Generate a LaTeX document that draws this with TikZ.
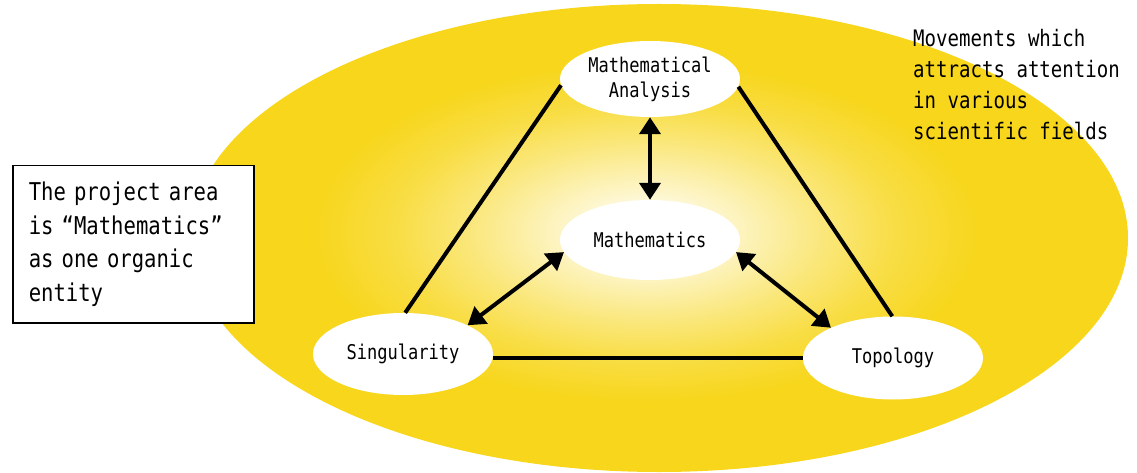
\documentclass[tikz,border=0pt]{standalone}
\usepackage{fontspec}
\newfontfamily\gfont[FakeStretch=0.84]{DejaVu Sans Mono}
\usetikzlibrary{arrows.meta,shapes.geometric}
\definecolor{myyellow}{RGB}{247,214,28}
\colorlet{ya}{myyellow!10!white}
\colorlet{yb}{myyellow!32!white}
\colorlet{yc}{myyellow!58!white}
\colorlet{yd}{myyellow!82!white}
\pgfdeclareradialshading{glow}{\pgfpoint{0bp}{0bp}}{color(0bp)=(white); color(2bp)=(ya); color(5bp)=(yb); color(8.5bp)=(yc); color(12bp)=(yd); color(16bp)=(myyellow); color(50bp)=(myyellow)}
\begin{document}
\begin{tikzpicture}[x=1pt,y=-1pt,
  bub/.style={ellipse, fill=white, minimum width=180pt, minimum height=80pt, inner sep=0pt,
    font=\gfont\fontsize{20.3}{25}\selectfont, align=center},
  conn/.style={line width=4pt},
  biarrow/.style={line width=4pt, {Triangle[length=17pt,width=21pt]}-{Triangle[length=17pt,width=21pt]}}]
\useasboundingbox (0,0) rectangle (1137,473);
\begin{scope}
  \clip (659,238) ellipse [x radius=469pt, y radius=234pt];
  \shade[shading=glow] (646,232) ellipse [x radius=520pt, y radius=265pt];
\end{scope}
\node[bub, minimum height=76pt] (ma) at (650,79) {Mathematical\\Analysis};
\node[bub] (m) at (650,240) {Mathematics};
\node[bub, minimum height=82pt] (s) at (403,354) {Singularity};
\node[bub, minimum height=83pt] (t) at (893,358) {Topology};
\draw[conn] (ma.184) -- (s.87);
\draw[conn] (ma.355) -- (t.91);
\draw[conn] (s.east |- t.west) -- (t.west);
\draw[biarrow] (ma) -- (m);
\draw[biarrow] (m.188) -- (s.24);
\draw[biarrow] (m.352) -- (t.154);
\node[draw, line width=1.5pt, fill=white, minimum width=241pt, minimum height=157pt, inner xsep=0pt,
  text width=209pt, anchor=north west, align=left, font=\gfont\fontsize{24.5}{33.5}\selectfont]
  (box) at (12,165) {The project area\\is “Mathematics”\\as one organic\\entity};
\node[anchor=north west, inner sep=0pt, align=left, font=\gfont\fontsize{22.7}{31}\selectfont]
  (rt) at (913,29) {Movements which\\attracts attention\\in various\\scientific fields};
\end{tikzpicture}
\end{document}
